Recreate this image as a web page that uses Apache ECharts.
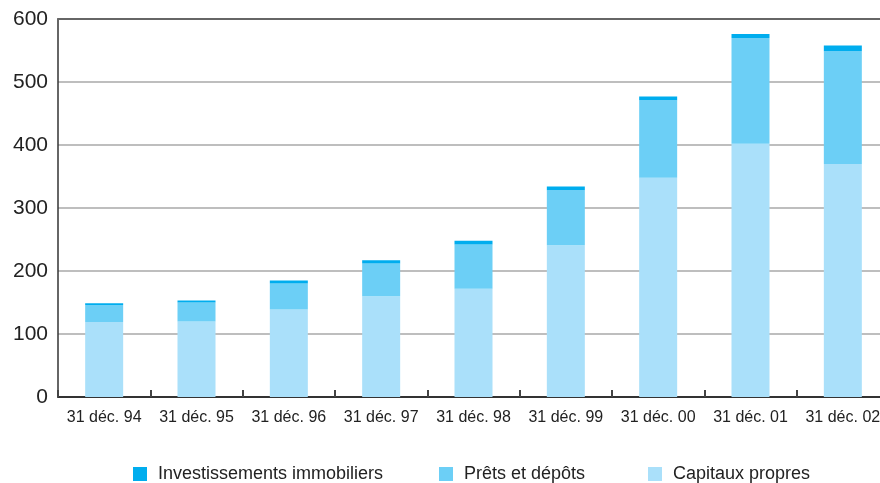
<!DOCTYPE html>
<html>
<head>
<meta charset="utf-8">
<script src="https://cdn.jsdelivr.net/npm/echarts@6/dist/echarts.min.js"></script>
<style>
html,body{margin:0;padding:0;background:#fff;overflow:hidden;width:880px;height:483px;}
#chart{width:890px;height:483px;}
</style>
</head>
<body>
<div id="chart"></div>
<script>
var categories = ['31 déc. 94','31 déc. 95','31 déc. 96','31 déc. 97','31 déc. 98','31 déc. 99','31 déc. 00','31 déc. 01','31 déc. 02'];
var capitauxPropres = [119, 120, 139, 160, 172, 241, 348, 402, 370];
var pretsDepots = [27, 30, 41, 52, 70, 87, 123, 168, 179];
var investImmo = [3, 3, 5, 5, 6, 6, 6, 6, 9];
var yTicks = [0, 100, 200, 300, 400, 500, 600];

var FONT = "'Liberation Sans', Arial, sans-serif";
var chart = echarts.init(document.getElementById('chart'), null, {renderer:'canvas', width:890, height:483});

function legendAt(name, left){
  return {
    data:[name], left:left, top:465, padding:0, itemWidth:14, itemHeight:14,
    icon:'rect', itemGap:0,
    textStyle:{fontFamily:FONT, fontSize:18, color:'#222', padding:[0,0,0,6]}
  };
}

chart.setOption({
  animation:false,
  backgroundColor:'#fff',
  legend:[
    legendAt('Investissements immobiliers', 133),
    legendAt('Prêts et dépôts', 439),
    legendAt('Capitaux propres', 648)
  ],
  grid:{left:58, top:19, width:831, height:378, containLabel:false},
  xAxis:[{
    type:'category', data:categories, position:'bottom',
    axisLine:{lineStyle:{color:'#333', width:2}},
    axisTick:{show:true, inside:true, length:7, lineStyle:{color:'#444', width:2}},
    axisLabel:{fontFamily:FONT, fontSize:16, color:'#222', margin:13, interval:0}
  },{
    type:'category', data:categories, position:'top',
    axisLine:{lineStyle:{color:'#666', width:2}},
    axisTick:{show:false}, axisLabel:{show:false}
  }],
  yAxis:{
    type:'value', min:yTicks[0], max:yTicks[yTicks.length-1], interval:100,
    axisLine:{show:true, lineStyle:{color:'#333', width:1.5}},
    axisTick:{show:false},
    axisLabel:{fontFamily:FONT, fontSize:21, color:'#222', margin:10},
    splitLine:{lineStyle:{color:'#a8a8a8', width:1.5}}
  },
  series:[
    {name:'Capitaux propres', type:'bar', stack:'t', data:capitauxPropres, barWidth:38, itemStyle:{color:'#AAE0FA'}},
    {name:'Prêts et dépôts', type:'bar', stack:'t', data:pretsDepots, barWidth:38, itemStyle:{color:'#6CCFF6'}},
    {name:'Investissements immobiliers', type:'bar', stack:'t', data:investImmo, barWidth:38, itemStyle:{color:'#00ADEE'}}
  ]
});
</script>
</body>
</html>
